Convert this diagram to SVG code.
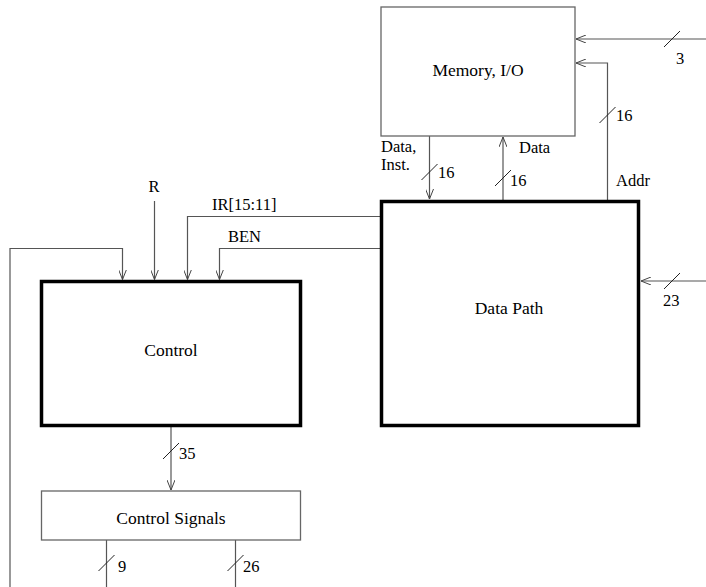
<svg xmlns="http://www.w3.org/2000/svg" width="706" height="587" viewBox="0 0 706 587">
<defs>
<marker id="ah" viewBox="0 0 10 8" refX="10" refY="4" markerWidth="10" markerHeight="8" markerUnits="userSpaceOnUse" orient="auto">
<path d="M0,0 L10,4 L0,8" fill="none" stroke="#444" stroke-width="1"/>
</marker>
<style>
.thin{fill:#fff;stroke:#666;stroke-width:1.3}
.thick{fill:#fff;stroke:#000;stroke-width:3.5}
.w{fill:none;stroke:#555;stroke-width:1.2}
.a{marker-end:url(#ah)}
.t{stroke:#222;stroke-width:1}
text{font-family:"Liberation Serif","Times New Roman",serif;font-size:16.5px;fill:#000}
.c{text-anchor:middle}
.n{font-size:17.5px}
</style>
</defs>
<rect width="706" height="587" fill="#fff"/>
<g id="connectors">
<path class="w a" d="M706,39 L576,39"/>
<line class="t" x1="664" y1="47" x2="680" y2="31"/>
<text x="676" y="64">3</text>
<path class="w a" d="M607.5,200 L607.5,63 L576,63"/>
<line class="t" x1="599.5" y1="123" x2="615.5" y2="107"/>
<text x="616" y="121">16</text>
<text x="616" y="186">Addr</text>
<path class="w a" d="M429.5,136 L429.5,199"/>
<line class="t" x1="421.5" y1="180" x2="437.5" y2="164"/>
<text x="438" y="178">16</text>
<text x="381" y="151.5">Data,</text>
<text x="381" y="169.5">Inst.</text>
<path class="w a" d="M503,200 L503,137"/>
<line class="t" x1="495" y1="186" x2="511" y2="170"/>
<text x="510" y="186">16</text>
<text x="519" y="153">Data</text>
<path class="w a" d="M706,281 L641,281"/>
<line class="t" x1="664" y1="289" x2="680" y2="273"/>
<text x="663" y="306">23</text>
<path class="w a" d="M381,216.5 L187.5,216.5 L187.5,279.5"/>
<text x="212" y="210">IR[15:11]</text>
<path class="w a" d="M381,248.5 L219.5,248.5 L219.5,279.5"/>
<text x="228" y="242">BEN</text>
<path class="w a" d="M154.5,201 L154.5,279.5"/>
<text x="154" y="192" class="c">R</text>
<path class="w a" d="M10,587 L10,248.5 L122.5,248.5 L122.5,279.5"/>
<path class="w a" d="M171,427 L171,490"/>
<line class="t" x1="163" y1="459" x2="179" y2="443"/>
<text x="179" y="459">35</text>
<path class="w" d="M106.5,540 L106.5,587"/>
<line class="t" x1="98.5" y1="571" x2="114.5" y2="555"/>
<text x="118" y="572">9</text>
<path class="w" d="M235.5,540 L235.5,587"/>
<line class="t" x1="227.5" y1="571" x2="243.5" y2="555"/>
<text x="243" y="572">26</text>
</g>
<g id="memory">
<rect class="thin" x="381" y="7" width="194" height="129"/>
<text x="478" y="76" class="c n">Memory, I/O</text>
</g>
<g id="datapath">
<rect class="thick" x="381.5" y="201.5" width="257" height="224"/>
<text x="509" y="314" class="c n">Data Path</text>
</g>
<g id="control">
<rect class="thick" x="41.5" y="281.5" width="259" height="144"/>
<text x="171" y="356" class="c n">Control</text>
</g>
<g id="controlsignals">
<rect class="thin" x="41.5" y="491" width="259" height="49"/>
<text x="171" y="524" class="c n">Control Signals</text>
</g>
</svg>
